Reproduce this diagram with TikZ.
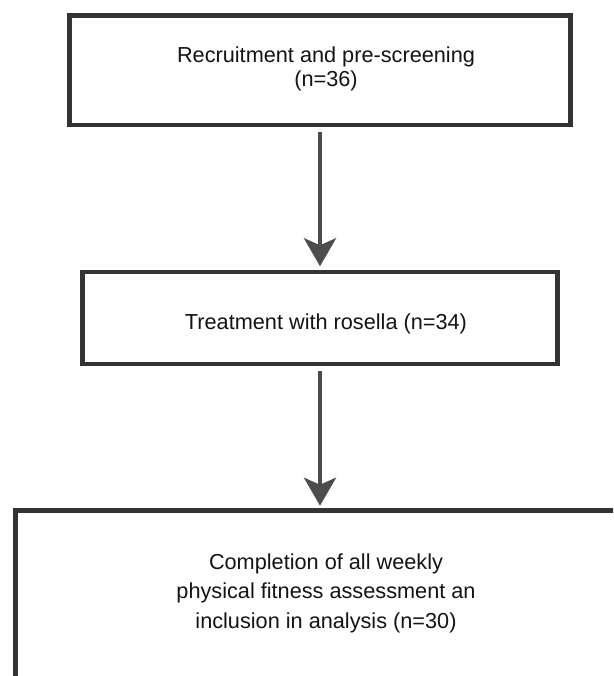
\documentclass[tikz,border=0pt]{standalone}
\usepackage{fontspec}
\setmainfont{Liberation Sans}
\usetikzlibrary{arrows.meta}
\definecolor{boxline}{HTML}{333333}
\definecolor{arrowcol}{HTML}{4D4D4D}
\definecolor{txtcol}{HTML}{141414}
\begin{document}
\begin{tikzpicture}[x=1pt,y=-1pt,
  stagebox/.style={draw=boxline, line width=4.5pt, inner sep=0pt},
  lbl/.style={font=\fontsize{21.7}{24}\selectfont, align=center, inner sep=0pt, text=txtcol},
  lblwide/.style={font=\fontsize{21.7}{29.5}\selectfont, align=center, inner sep=0pt, text=txtcol},
  flowarrow/.style={draw=arrowcol, line width=4.5pt,
    -{Stealth[length=28pt, width=32pt, inset=7pt, fill=arrowcol]}}
]
\useasboundingbox (0,0) rectangle (613,676);
\clip (0,0) rectangle (613,676);
\fill[white] (0,0) rectangle (613,676);

\node[stagebox, minimum width=501pt, minimum height=109.5pt] (b1) at (320,70.25) {};
\node[stagebox, minimum width=475pt, minimum height=92pt] (b2) at (320,318) {};
\node[stagebox, minimum width=609.4pt, minimum height=250pt] (b3) at (320,635.5) {};

\node[lbl] (t1) at (326,69) {Recruitment and pre-screening\\(n=36)};
\node[lbl, anchor=base] (t2) at (326,329) {Treatment with rosella (n=34)};
\node[lblwide] (t3) at (326,593) {Completion of all weekly\\physical fitness assessment an\\inclusion in analysis (n=30)};

\draw[flowarrow] ([yshift=-5pt]b1.south) -- ([yshift=3.5pt]b2.north);
\draw[flowarrow] ([yshift=-5pt]b2.south) -- ([yshift=2.5pt]b3.north);
\end{tikzpicture}
\end{document}
